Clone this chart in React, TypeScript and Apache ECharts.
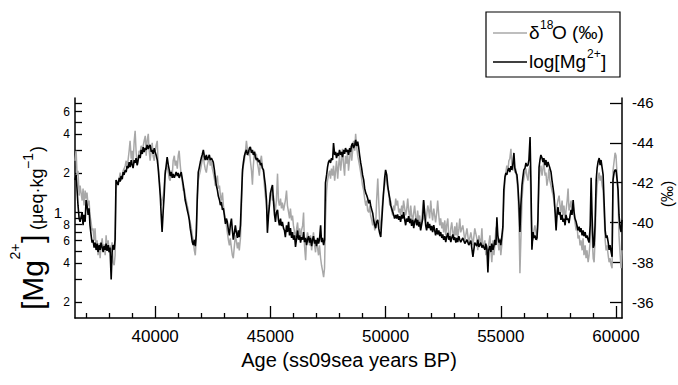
import React, { useEffect, useRef } from 'react';
import * as echarts from 'echarts';

const FONT = '"Liberation Sans", Arial, Helvetica, sans-serif';

// Age axis (ss09sea years BP)
const ageMin = 36520;
const ageMax = 60260;
const ageLabels = [40000, 45000, 50000, 55000, 60000];
const ageMinorTicks = [
  37000, 38000, 39000, 41000, 42000, 43000, 44000, 46000, 47000, 48000, 49000,
  51000, 52000, 53000, 54000, 56000, 57000, 58000, 59000,
];

// [Mg2+] axis in µeq/kg, logarithmic
const mgMin = 0.151;
const mgMax = 7.65;
const mgTicks = [0.2, 0.3, 0.4, 0.5, 0.6, 0.7, 0.8, 0.9, 1, 2, 3, 4, 5, 6, 7];
const mgLabels = [0.2, 0.4, 0.6, 0.8, 2, 4, 6];
const mgDecadeLabels = [1];

// δ18O axis in ‰, reversed (more negative upwards)
const d18oMin = -46.25;
const d18oMax = -35.2;
const d18oTicks = [-46, -44, -42, -40, -38, -36];

// [Mg2+] record (age, µeq/kg)
const mgRecord: [number, number][] = [
  [36520,1.77],[36570,1.94],[36610,1.48],[36650,1.13],[36700,0.89],[36740,0.84],[36830,1.0],[36870,0.79],[36910,0.95],[36960,0.84],
  [37000,1.24],[37040,1.13],[37090,0.95],[37130,1.07],[37170,0.79],[37220,0.66],[37260,0.58],[37300,0.61],[37350,0.53],[37390,0.58],
  [37440,0.51],[37480,0.57],[37520,0.49],[37570,0.555],[37610,0.51],[37650,0.58],[37700,0.53],[37740,0.49],[37780,0.545],[37830,0.51],
  [37870,0.57],[37910,0.50],[37960,0.555],[38000,0.49],[38040,0.53],[38090,0.30],[38130,0.49],[38170,0.555],[38220,0.51],[38260,0.61],
  [38300,1.77],[38350,1.68],
  [38390,1.62],[38440,1.84],[38480,1.72],[38520,1.90],[38570,1.80],[38610,2.04],[38650,1.94],[38700,2.12],[38740,2.04],[38780,2.27],
  [38830,2.19],[38870,2.44],[38910,2.23],[38960,2.53],[39000,2.31],[39040,2.19],[39090,2.53],[39130,2.40],[39170,2.62],[39220,2.31],
  [39260,2.53],[39300,2.77],[39350,2.62],[39390,3.03],[39440,2.82],[39480,3.19],[39520,2.92],[39570,3.13],[39610,3.03],[39650,3.31],
  [39700,3.08],[39740,3.25],[39780,3.31],[39830,2.92],[39870,3.03],[39910,2.82],[39960,3.13],[40000,2.92],[40040,2.77],[40090,2.53],
  [40130,2.19],[40170,1.77],[40220,1.35],[40260,0.95],[40300,0.70],[40350,1.04],[40390,1.35],[40430,1.94],
  [40480,2.31],[40520,2.67],[40570,2.31],[40610,2.12],[40650,1.90],[40700,2.04],[40740,1.84],[40780,1.97],[40830,1.84],[40870,1.94],
  [40910,2.04],[40960,1.90],[41000,2.01],[41040,1.84],[41090,1.94],[41130,2.04],[41170,1.84],[41220,1.62],[41260,1.43],[41300,1.24],
  [41350,1.13],[41390,1.04],[41440,0.95],[41480,0.87],[41520,0.75],[41570,0.66],[41610,0.585],[41650,0.555],[41700,0.61],[41740,0.545],
  [41780,0.66],[41830,1.35],
  [41870,2.04],[41910,2.19],[41960,2.44],[42000,2.62],[42040,2.77],[42090,3.03],[42130,2.72],[42170,2.53],[42220,2.77],[42260,2.53],
  [42310,2.67],[42350,2.77],[42390,2.53],[42440,2.62],[42480,2.53],[42520,2.44],[42570,2.12],[42610,1.84],[42650,1.62],[42700,1.48],
  [42740,1.33],[42790,1.24],[42830,1.13],[42870,1.20],[42920,1.04],[42960,1.07],[43000,0.95],[43050,0.81],[43090,0.89],[43130,0.84],
  [43180,0.72],[43220,0.66],[43260,0.79],[43310,0.89],[43350,0.72],[43390,0.61],[43440,0.70],[43480,0.79],[43520,0.70],[43570,0.63],
  [43610,0.72],[43650,0.64],[43700,0.79],[43740,1.24],
  [43790,2.12],[43830,2.44],[43870,2.72],[43920,2.92],[43960,3.03],[44000,2.77],[44050,2.92],[44090,3.13],[44130,3.19],[44180,2.87],
  [44220,3.03],[44260,2.77],[44310,2.92],[44350,2.67],[44390,2.53],[44440,2.62],[44480,2.44],[44520,2.53],[44570,2.31],[44610,2.40],
  [44650,2.19],[44700,2.12],[44740,1.84],[44780,1.62],[44830,1.24],[44870,0.69],[44920,0.95],
  [44960,1.13],[45000,1.40],[45050,1.53],[45090,1.62],[45130,1.24],[45180,0.95],[45220,0.84],[45260,1.0],[45310,1.04],[45350,0.87],
  [45390,0.79],[45440,0.89],[45480,0.78],[45520,0.84],[45570,0.75],[45610,0.72],[45650,0.64],[45700,0.79],[45740,0.70],[45790,0.84],
  [45830,0.66],[45870,0.75],[45920,0.63],[45960,0.70],[46000,0.61],[46050,0.66],[46090,0.536],[46140,0.63],[46180,0.72],[46220,0.61],
  [46270,0.66],[46310,0.58],[46350,0.64],[46400,0.61],[46440,0.70],[46480,0.585],[46530,0.63],[46570,0.555],[46610,0.61],[46660,0.65],
  [46700,0.58],[46740,0.63],[46790,0.545],[46830,0.61],[46870,0.65],[46920,0.57],[46960,0.61],[47000,0.545],[47050,0.63],[47090,0.57],
  [47130,0.61],[47180,0.79],[47220,0.585],[47260,0.63],[47310,0.555],[47350,0.61],[47390,1.68],
  [47440,1.94],[47480,2.23],[47520,2.44],[47570,2.53],[47610,2.40],[47650,2.62],[47700,2.53],[47740,3.42],[47790,2.77],[47830,2.92],
  [47870,2.62],[47920,2.87],[47960,2.72],[48000,3.03],[48050,2.77],[48090,2.92],[48130,2.67],[48180,3.03],[48220,2.82],[48260,3.13],
  [48310,2.92],[48350,3.03],[48390,2.77],[48440,3.13],[48480,2.92],[48530,3.31],[48570,3.42],[48610,3.13],[48660,3.31],[48700,3.62],
  [48740,3.25],[48790,3.51],[48830,3.19],[48870,2.77],[48920,2.40],
  [48960,2.19],[49000,1.94],[49050,1.77],[49090,1.53],[49140,1.40],[49180,1.35],[49220,1.28],[49270,1.17],[49310,1.24],[49350,1.13],
  [49400,1.04],[49440,0.98],[49480,0.87],[49530,0.79],[49570,0.75],[49610,0.84],[49660,0.87],[49700,0.75],[49740,0.69],[49790,0.64],
  [49830,0.84],[49870,1.09],[49920,1.48],[49960,1.84],[50000,2.12],[50050,1.94],[50090,1.62],[50130,1.43],[50180,1.28],[50220,1.13],
  [50260,1.07],[50310,1.0],[50350,0.95],[50390,0.89],[50440,0.95],
  [50480,0.89],[50520,0.96],[50570,0.87],[50610,0.93],[50650,0.84],[50700,0.95],[50740,0.89],[50780,1.0],[50830,0.87],[50870,0.79],
  [50910,0.89],[50960,0.84],[51000,0.93],[51050,0.82],[51090,0.89],[51130,0.78],[51180,0.87],[51220,0.75],[51260,0.84],[51310,0.89],
  [51350,0.79],[51390,0.87],[51440,0.77],[51480,0.84],[51520,0.72],[51570,0.81],[51610,0.89],[51650,1.24],[51700,0.95],[51740,0.79],
  [51780,0.72],[51830,0.84],[51870,0.75],[51910,0.81],[51960,0.72],[52000,0.78],[52040,0.70],[52090,0.79],[52130,0.72],[52170,0.66],
  [52220,0.75],[52260,0.67],[52310,0.72],[52350,0.65],[52390,0.70],[52440,0.63],[52480,0.67],[52520,0.61],[52570,0.65],[52610,0.585],
  [52650,0.64],[52700,0.69],[52740,0.61],[52790,0.65],[52830,0.585],[52870,0.63],[52920,0.67],[52960,0.61],[53000,0.64],[53050,0.58],
  [53090,0.63],[53130,0.585],[53180,0.65],[53220,0.61],[53260,0.585],
  [53350,0.63],[53440,0.57],[53530,0.61],[53610,0.555],[53700,0.60],[53790,0.45],[53870,0.58],[53960,0.545],[54000,0.61],[54050,0.536],
  [54130,0.58],[54180,0.53],[54220,0.555],[54310,0.51],[54350,0.57],[54400,0.51],[54440,0.34],[54480,0.51],[54530,0.545],[54570,0.49],
  [54610,0.57],[54660,0.51],[54700,0.545],[54740,0.61],[54790,0.555],[54830,0.91],[54870,0.66],[54920,0.58],[54960,0.61],[55000,0.555],
  [55050,0.66],[55090,0.77],
  [55130,1.48],[55180,1.87],[55220,2.01],[55260,1.94],[55310,2.12],[55350,2.19],[55390,2.04],[55440,2.27],[55480,2.12],[55520,2.31],
  [55570,2.87],[55610,2.19],[55650,2.04],[55700,1.94],[55740,1.62],[55790,1.13],[55830,0.70],[55870,1.13],[55920,1.62],[55960,1.87],
  [56000,2.12],[56050,2.19],[56090,2.40],[56130,2.27],[56180,2.31],[56220,2.53],[56270,3.81],[56310,1.62],[56350,0.51],[56400,0.70],
  [56440,0.63],[56480,0.66],[56530,0.61],[56570,0.63],[56610,0.87],[56660,2.23],[56700,2.53],[56740,2.77],[56790,2.62],[56830,2.44],
  [56870,2.62],[56920,2.31],[56960,2.53],[57000,2.23],[57050,2.44],[57090,2.31],[57130,2.19],[57180,2.04],[57220,1.77],[57270,1.53],
  [57310,1.35],[57350,1.04],[57400,0.72],[57440,0.95],[57480,1.09],[57530,0.95],[57570,1.0],[57610,0.87],[57660,0.95],[57700,0.84],
  [57740,0.89],[57790,0.79],[57830,0.95],[57880,0.87],[57920,0.89],[57960,0.82],[58010,0.95],[58050,1.04],[58090,0.95],[58140,1.24],
  [58180,1.0],[58220,0.89],[58270,0.84],[58310,0.78],[58350,0.72],[58400,0.77],[58440,0.70],[58480,0.75],[58530,0.66],[58570,0.72],
  [58610,0.65],[58660,0.70],[58700,0.63],[58740,0.66],[58790,0.61],[58830,0.58],[58880,0.79],[58920,1.84],[58960,0.95],[59010,0.53],
  [59050,0.555],[59090,0.79],[59140,1.77],[59180,2.19],[59220,2.44],[59270,2.62],[59310,2.31],[59350,2.53],[59400,2.19],[59440,1.94],
  [59480,1.24],[59530,0.72],[59570,0.63],[59610,0.66],[59660,0.585],[59700,0.51],[59740,0.555],[59790,0.49],[59830,0.45],[59870,1.77],
  [59920,2.04],[59960,2.12],[60000,2.12],[60050,1.77],[60090,1.48],[60130,0.95],[60180,0.75],[60220,0.70],[60260,0.87],
];

// δ18O record (age, ‰)
const d18oRecord: [number, number][] = [
  [36520,-43.1],[36570,-43.6],[36610,-42.35],[36650,-42.6],[36700,-41.35],[36740,-41.85],[36830,-41.1],[36870,-41.7],[36910,-40.85],[36960,-41.6],
  [37000,-41.2],[37040,-41.5],[37090,-40.85],[37130,-41.1],[37170,-40.35],[37220,-40.0],[37260,-39.6],[37300,-39.7],[37350,-39.1],[37390,-39.7],
  [37440,-38.6],[37480,-39.1],[37520,-38.35],[37570,-38.95],[37610,-38.2],[37650,-38.85],[37700,-39.2],[37740,-38.6],[37780,-38.9],[37830,-38.35],
  [37870,-39.35],[37910,-38.7],[37960,-39.1],[38000,-38.5],[38040,-38.85],[38090,-38.6],[38130,-39.0],[38170,-38.0],[38220,-37.85],[38260,-38.35],
  [38300,-41.6],[38350,-42.1],
  [38390,-41.95],[38440,-42.2],[38480,-42.5],[38520,-42.1],[38570,-42.35],[38610,-42.6],[38650,-42.7],[38700,-42.85],[38740,-43.1],[38780,-42.7],
  [38830,-43.2],[38870,-43.6],[38910,-44.1],[38960,-43.2],[39000,-43.6],[39040,-42.95],[39090,-44.1],[39130,-44.6],[39170,-43.6],[39220,-42.85],
  [39260,-43.2],[39300,-43.6],[39350,-43.5],[39390,-43.85],[39440,-43.6],[39480,-43.85],[39520,-44.1],[39570,-44.35],[39610,-43.35],[39650,-44.1],
  [39700,-44.45],[39740,-43.6],[39780,-43.1],[39830,-43.6],[39870,-44.0],[39910,-43.35],[39960,-43.1],[40000,-43.6],[40040,-43.85],[40090,-44.1],
  [40130,-42.85],[40170,-42.35],[40220,-41.6],[40260,-40.85],[40300,-41.1],[40350,-41.35],[40390,-41.85],[40430,-42.6],
  [40480,-42.7],[40520,-42.85],[40570,-42.5],[40610,-42.2],[40650,-42.1],[40700,-42.6],[40740,-42.35],[40780,-43.1],[40830,-43.35],[40870,-42.85],
  [40910,-43.1],[40960,-42.7],[41000,-43.35],[41040,-43.6],[41090,-42.85],[41130,-42.35],[41170,-42.1],[41220,-41.6],[41260,-41.7],[41300,-41.35],
  [41350,-41.1],[41390,-40.85],[41440,-40.6],[41480,-40.2],[41520,-40.0],[41570,-39.7],[41610,-39.35],[41650,-39.1],[41700,-38.6],[41740,-38.35],
  [41780,-39.1],[41830,-41.1],
  [41870,-42.1],[41910,-42.35],[41960,-42.6],[42000,-42.85],[42040,-43.1],[42090,-43.35],[42130,-42.95],[42170,-42.7],[42220,-42.5],[42260,-42.85],
  [42310,-43.1],[42350,-43.2],[42390,-42.85],[42440,-43.1],[42480,-42.7],[42520,-42.5],[42570,-42.2],[42610,-41.85],[42650,-42.1],[42700,-42.35],
  [42740,-41.7],[42790,-41.85],[42830,-41.35],[42870,-41.1],[42920,-41.5],[42960,-40.85],[43000,-40.5],[43050,-40.1],[43090,-39.85],[43130,-39.5],
  [43180,-39.1],[43220,-38.85],[43260,-39.2],[43310,-38.7],[43350,-38.35],[43390,-38.2],[43440,-38.85],[43480,-39.35],[43520,-39.1],[43570,-38.7],
  [43610,-39.0],[43650,-38.6],[43700,-39.2],[43740,-40.6],
  [43790,-42.5],[43830,-42.85],[43870,-43.1],[43920,-43.6],[43960,-44.1],[44000,-43.7],[44050,-43.35],[44090,-43.6],[44130,-43.1],[44180,-42.6],
  [44220,-41.9],[44260,-42.85],[44310,-43.6],[44350,-43.2],[44390,-43.45],[44440,-42.95],[44480,-42.7],[44520,-42.35],[44570,-43.1],[44610,-43.35],
  [44650,-42.85],[44700,-42.5],[44740,-41.85],[44780,-41.35],[44830,-40.85],[44870,-40.1],[44920,-40.6],
  [44960,-41.1],[45000,-41.35],[45050,-41.6],[45090,-41.1],[45130,-41.35],[45180,-40.85],[45220,-40.6],[45260,-41.1],[45310,-42.45],[45350,-41.1],
  [45390,-40.85],[45440,-41.2],[45480,-40.7],[45520,-41.0],[45570,-40.6],[45610,-40.85],[45650,-41.1],[45700,-41.6],[45740,-40.85],[45790,-40.5],
  [45830,-40.2],[45870,-40.7],[45920,-40.1],[45960,-40.35],[46000,-39.85],[46050,-39.5],[46090,-39.2],[46140,-39.7],[46180,-40.0],[46220,-39.35],
  [46270,-39.7],[46310,-39.1],[46350,-39.6],[46400,-39.85],[46440,-40.5],[46480,-38.85],[46530,-38.1],[46570,-39.1],[46610,-39.5],[46660,-39.2],
  [46700,-38.85],[46740,-39.35],[46790,-38.6],[46830,-39.1],[46870,-39.5],[46920,-38.85],[46960,-38.5],[47000,-39.1],[47050,-38.7],[47090,-38.35],
  [47130,-38.85],[47180,-38.2],[47220,-37.85],[47260,-37.6],[47310,-37.25],[47350,-37.7],[47390,-40.1],
  [47440,-41.6],[47480,-42.1],[47520,-42.35],[47570,-42.6],[47610,-42.2],[47650,-42.7],[47700,-42.35],[47740,-42.85],[47790,-42.1],[47830,-42.6],
  [47870,-43.1],[47920,-42.2],[47960,-42.85],[48000,-43.35],[48050,-42.6],[48090,-43.1],[48130,-43.7],[48180,-42.85],[48220,-42.35],[48260,-43.35],
  [48310,-42.95],[48350,-43.6],[48390,-42.6],[48440,-43.2],[48480,-43.85],[48530,-43.1],[48570,-43.6],[48610,-44.1],[48660,-43.6],[48700,-44.45],
  [48740,-43.85],[48790,-43.35],[48830,-43.1],[48870,-42.85],[48920,-42.5],
  [48960,-42.2],[49000,-41.85],[49050,-41.6],[49090,-41.2],[49140,-40.85],[49180,-41.1],[49220,-40.6],[49270,-40.5],[49310,-40.85],[49350,-40.35],
  [49400,-40.1],[49440,-39.85],[49480,-40.2],[49530,-39.6],[49570,-39.85],[49610,-41.1],[49660,-42.2],[49700,-41.1],[49740,-40.1],[49790,-39.6],
  [49830,-40.35],[49870,-41.1],[49920,-41.6],[49960,-41.85],[50000,-42.35],[50050,-42.1],[50090,-41.7],[50130,-41.6],[50180,-40.85],[50220,-41.1],
  [50260,-40.6],[50310,-40.35],[50350,-40.85],[50390,-40.6],[50440,-41.2],
  [50480,-40.85],[50520,-41.1],[50570,-40.5],[50610,-40.7],[50650,-40.35],[50700,-40.85],[50740,-40.5],[50780,-41.1],[50830,-40.7],[50870,-40.35],
  [50910,-40.6],[50960,-41.2],[51000,-40.6],[51050,-40.2],[51090,-40.85],[51130,-40.35],[51180,-40.1],[51220,-40.5],[51260,-40.85],[51310,-40.2],
  [51350,-39.85],[51390,-40.6],[51440,-40.0],[51480,-40.35],[51520,-39.7],[51570,-40.2],[51610,-40.7],[51650,-41.1],[51700,-40.5],[51740,-40.0],
  [51780,-40.35],[51830,-40.85],[51870,-40.6],[51910,-40.2],[51960,-41.1],[52000,-40.5],[52040,-40.1],[52090,-40.7],[52130,-40.35],[52170,-40.0],
  [52220,-40.5],[52260,-41.1],[52310,-40.35],[52350,-39.85],[52390,-40.2],[52440,-39.7],[52480,-40.0],[52520,-39.5],[52570,-40.1],[52610,-39.35],
  [52650,-39.85],[52700,-40.2],[52740,-39.35],[52790,-39.1],[52830,-39.7],[52870,-40.0],[52920,-39.5],[52960,-39.1],[53000,-39.8],[53050,-39.35],
  [53090,-40.0],[53130,-39.2],[53180,-39.7],[53220,-40.2],[53260,-39.5],
  [53350,-39.85],[53440,-39.1],[53530,-39.7],[53610,-38.95],[53700,-39.5],[53790,-38.85],[53870,-39.7],[53960,-39.2],[54000,-38.6],[54050,-39.35],
  [54130,-38.85],[54180,-39.7],[54220,-38.7],[54310,-39.1],[54350,-38.35],[54400,-38.85],[54440,-38.2],[54480,-38.95],[54530,-39.35],[54570,-38.6],
  [54610,-38.0],[54660,-39.1],[54700,-38.35],[54740,-38.85],[54790,-39.7],[54830,-39.85],[54870,-39.1],[54920,-38.6],[54960,-39.2],[55000,-38.35],
  [55050,-38.95],[55090,-39.6],
  [55130,-41.1],[55180,-42.1],[55220,-42.5],[55260,-42.85],[55310,-42.6],[55350,-43.1],[55390,-43.2],[55440,-43.7],[55480,-42.85],[55520,-42.6],
  [55570,-43.1],[55610,-42.5],[55650,-42.7],[55700,-42.1],[55740,-41.6],[55790,-40.1],[55830,-37.45],[55870,-39.1],[55920,-41.1],[55960,-41.85],
  [56000,-42.2],[56050,-42.5],[56090,-42.7],[56130,-42.35],[56180,-42.1],[56220,-42.6],[56270,-42.85],[56310,-40.85],[56350,-39.35],[56400,-39.1],
  [56440,-39.6],[56480,-39.85],[56530,-39.5],[56570,-39.1],[56610,-39.85],[56660,-42.1],[56700,-42.6],[56740,-42.85],[56790,-42.35],[56830,-42.7],
  [56870,-43.1],[56920,-42.35],[56960,-42.5],[57000,-41.85],[57050,-42.2],[57090,-42.7],[57130,-42.1],[57180,-41.85],[57220,-41.6],[57270,-41.35],
  [57310,-41.1],[57350,-40.6],[57400,-40.35],[57440,-40.85],[57480,-41.1],[57530,-41.35],[57570,-40.85],[57610,-40.5],[57660,-41.1],[57700,-40.35],
  [57740,-40.85],[57790,-40.1],[57830,-40.6],[57880,-41.1],[57920,-41.7],[57960,-40.6],[58010,-40.85],[58050,-41.1],[58090,-40.5],[58140,-40.85],
  [58180,-40.35],[58220,-40.0],[58270,-39.6],[58310,-39.85],[58350,-39.2],[58400,-39.35],[58440,-38.85],[58480,-39.1],[58530,-38.6],[58570,-39.2],
  [58610,-38.35],[58660,-38.85],[58700,-38.2],[58740,-38.6],[58790,-38.0],[58830,-38.35],[58880,-39.1],[58920,-40.85],[58960,-39.35],[59010,-38.2],
  [59050,-38.0],[59090,-39.1],[59140,-41.1],[59180,-41.85],[59220,-42.2],[59270,-42.5],[59310,-42.1],[59350,-42.35],[59400,-41.85],[59440,-41.6],
  [59480,-40.6],[59530,-39.1],[59570,-38.6],[59610,-38.85],[59660,-38.35],[59700,-38.0],[59740,-38.2],[59790,-37.85],[59830,-37.7],[59870,-42.6],
  [59920,-43.1],[59960,-43.5],[60000,-43.35],[60050,-42.35],[60090,-41.1],[60130,-39.35],[60180,-38.35],[60220,-37.7],[60260,-38.6],
];

const GRAY = '#a8a8a8';
const BLACK = '#000000';

function txt(x: number, y: number, text: string, fontSize: number, extra: Record<string, unknown> = {}) {
  return {
    type: 'text',
    x,
    y,
    style: {
      text,
      fontSize,
      fontFamily: FONT,
      fill: BLACK,
      textAlign: 'left',
      textVerticalAlign: 'middle',
      ...extra,
    },
  };
}

function buildOption() {
  const axisLineStyle = { color: BLACK, width: 1.5 };
  const tickLineStyle = { color: BLACK, width: 1.3 };

  // Mantissa-only labels: 0.2 → "2", 6 → "6"
  const mgFormatter = (value: number) => {
    const v = Math.pow(10, value);
    return v > 1 ? String(Math.round(v)) : String(Math.round(v * 10));
  };

  const mgRange = { min: Math.log10(mgMin), max: Math.log10(mgMax) };

  return {
    animation: false,
    backgroundColor: '#ffffff',
    grid: { left: 75, right: 56, top: 98, bottom: 67, containLabel: false },
    xAxis: [
      {
        type: 'value',
        position: 'bottom',
        min: ageMin,
        max: ageMax,
        axisLine: { show: true, onZero: false, lineStyle: axisLineStyle },
        axisTick: { show: true, inside: true, length: 12, customValues: ageLabels, lineStyle: tickLineStyle },
        axisLabel: {
          customValues: ageLabels,
          formatter: (v: number) => String(v),
          color: BLACK,
          fontSize: 17,
          fontFamily: FONT,
          margin: 10,
        },
        splitLine: { show: false },
      },
      {
        type: 'value',
        position: 'bottom',
        min: ageMin,
        max: ageMax,
        axisLine: { show: false, onZero: false },
        axisTick: { show: true, inside: true, length: 5, customValues: ageMinorTicks, lineStyle: tickLineStyle },
        axisLabel: { show: false },
        splitLine: { show: false },
      },
    ],
    yAxis: [
      {
        type: 'value',
        position: 'left',
        ...mgRange,
        axisLine: { show: true, onZero: false, lineStyle: axisLineStyle },
        axisTick: { show: true, inside: true, length: 7, customValues: mgTicks.map(Math.log10), lineStyle: tickLineStyle },
        axisLabel: {
          customValues: mgLabels.map(Math.log10),
          formatter: mgFormatter,
          color: BLACK,
          fontSize: 12,
          fontFamily: FONT,
          margin: 5,
        },
        splitLine: { show: false },
      },
      {
        type: 'value',
        position: 'right',
        inverse: true,
        min: d18oMin,
        max: d18oMax,
        axisLine: { show: true, onZero: false, lineStyle: axisLineStyle },
        axisTick: { show: true, inside: true, length: 12, customValues: d18oTicks, lineStyle: tickLineStyle },
        axisLabel: {
          customValues: d18oTicks,
          formatter: (v: number) => String(v),
          color: BLACK,
          fontSize: 15,
          fontFamily: FONT,
          margin: 10,
        },
        splitLine: { show: false },
      },
      {
        // decade label "1", drawn larger and set further out
        type: 'value',
        position: 'left',
        ...mgRange,
        axisLine: { show: false, onZero: false },
        axisTick: { show: false },
        axisLabel: {
          customValues: mgDecadeLabels.map(Math.log10),
          formatter: () => '1',
          color: BLACK,
          fontSize: 15,
          fontFamily: FONT,
          margin: 13,
        },
        splitLine: { show: false },
      },
    ],
    series: [
      {
        type: 'line',
        name: 'δ18O (‰)',
        xAxisIndex: 0,
        yAxisIndex: 1,
        data: d18oRecord,
        symbol: 'none',
        showSymbol: false,
        lineStyle: { color: GRAY, width: 1.5 },
        z: 2,
      },
      {
        type: 'line',
        name: 'log[Mg2+]',
        xAxisIndex: 0,
        yAxisIndex: 0,
        data: mgRecord.map(([age, mg]) => [age, Math.log10(mg)]),
        symbol: 'none',
        showSymbol: false,
        lineStyle: { color: BLACK, width: 1.6 },
        z: 3,
      },
    ],
    graphic: [
      // x axis title
      txt(349, 360, 'Age (ss09sea years BP)', 20, { textAlign: 'center' }),
      // left axis title, rotated to read bottom-to-top
      {
        type: 'group',
        x: 43,
        y: 310,
        rotation: Math.PI / 2,
        children: [
          txt(0, -10.5, '[Mg', 30),
          txt(50.5, -28, '2+', 14),
          txt(67, -10.5, ']', 30),
          txt(80, -6.3, '(μeq·kg', 18),
          txt(141, -15, '−1', 14),
          txt(158, -6.3, ')', 18),
        ],
      },
      // right axis title
      {
        type: 'text',
        x: 667,
        y: 194,
        rotation: Math.PI / 2,
        style: {
          text: '(‰)',
          fontSize: 16,
          fontFamily: FONT,
          fill: BLACK,
          textAlign: 'center',
          textVerticalAlign: 'middle',
        },
      },
      // legend box
      {
        type: 'rect',
        shape: { x: 486, y: 12, width: 134, height: 65 },
        style: { fill: '#ffffff', stroke: BLACK, lineWidth: 1.2 },
        z: 10,
      },
      {
        type: 'line',
        shape: { x1: 493, y1: 33, x2: 527, y2: 33 },
        style: { stroke: GRAY, lineWidth: 1.5 },
        z: 11,
      },
      {
        type: 'line',
        shape: { x1: 493, y1: 62, x2: 527, y2: 62 },
        style: { stroke: BLACK, lineWidth: 1.5 },
        z: 11,
      },
      { ...txt(529, 32.4, 'δ', 19), z: 11 },
      { ...txt(540, 24.5, '18', 12), z: 11 },
      { ...txt(552, 32.4, 'O (‰)', 19), z: 11 },
      { ...txt(529, 61.4, 'log[Mg', 19), z: 11 },
      { ...txt(587, 53.5, '2+', 12), z: 11 },
      { ...txt(601, 61.4, ']', 19), z: 11 },
    ],
  };
}

export default function App() {
  const ref = useRef<HTMLDivElement>(null);

  useEffect(() => {
    document.body.style.margin = '0';
    if (!ref.current) return;
    const chart = echarts.init(ref.current, undefined, { renderer: 'svg' });
    chart.setOption(buildOption() as any);
    return () => {
      chart.dispose();
    };
  }, []);

  return <div ref={ref} style={{ width: 678, height: 385, background: '#fff' }} />;
}
